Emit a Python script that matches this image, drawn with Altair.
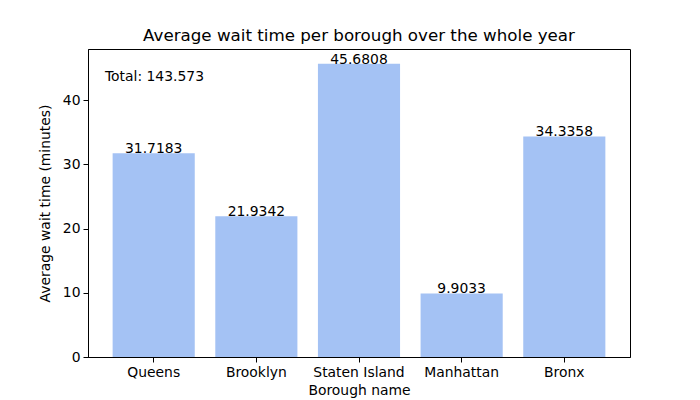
import altair as alt
import pandas as pd

boroughs = ["Queens", "Brooklyn", "Staten Island", "Manhattan", "Bronx"]
wait_times = [31.7183, 21.9342, 45.6808, 9.9033, 34.3358]
labels = ["31.7183", "21.9342", "45.6808", "9.9033", "34.3358"]
total_label = "Total: 143.573"

df = pd.DataFrame({"borough": boroughs, "wait": wait_times, "label": labels})

FONT = "DejaVu Sans"

x = alt.X("borough:N", sort=boroughs, title="Borough name",
          scale=alt.Scale(paddingInner=0.2, paddingOuter=0.24),
          axis=alt.Axis(labelAngle=0, labelFontSize=13.9, titleFontSize=13.9,
                        labelFont=FONT, titleFont=FONT, labelColor="black",
                        titleColor="black", titleFontWeight="normal",
                        tickColor="black", domainColor="black", tickSize=5,
                        labelPadding=3, titlePadding=5, grid=False))
y = alt.Y("wait:Q", title="Average wait time (minutes)",
          scale=alt.Scale(domain=[0, 47.96], nice=False),
          axis=alt.Axis(values=[0, 10, 20, 30, 40], labelFontSize=13.9,
                        titleFontSize=13.9, labelFont=FONT, titleFont=FONT,
                        labelColor="black", titleColor="black",
                        titleFontWeight="normal", tickColor="black",
                        domainColor="black", tickSize=5, labelPadding=3,
                        titlePadding=10, grid=False))

bars = alt.Chart(df).mark_bar(color="#a4c2f4").encode(x=x, y=y)

text = alt.Chart(df).mark_text(baseline="alphabetic", align="center",
                               fontSize=13.9, font=FONT, color="black").encode(
    x=alt.X("borough:N", sort=boroughs), y="wait:Q", text="label:N")

total = alt.Chart(pd.DataFrame({"t": [total_label]})).mark_text(
    align="left", baseline="alphabetic", fontSize=13.9, font=FONT,
    color="black").encode(x=alt.value(17), y=alt.value(32), text="t:N")

chart = alt.layer(bars, text, total).properties(
    width=542, height=308,
    title=alt.TitleParams("Average wait time per borough over the whole year",
                          fontSize=16.7, font=FONT, fontWeight="normal",
                          color="black", offset=4),
    autosize=alt.AutoSizeParams(type="none"),
    padding={"left": 80, "top": 41, "right": 62, "bottom": 50},
).configure_view(stroke="black", strokeWidth=1)

chart.save("out.html", embed_options={"renderer": "svg", "actions": False})
